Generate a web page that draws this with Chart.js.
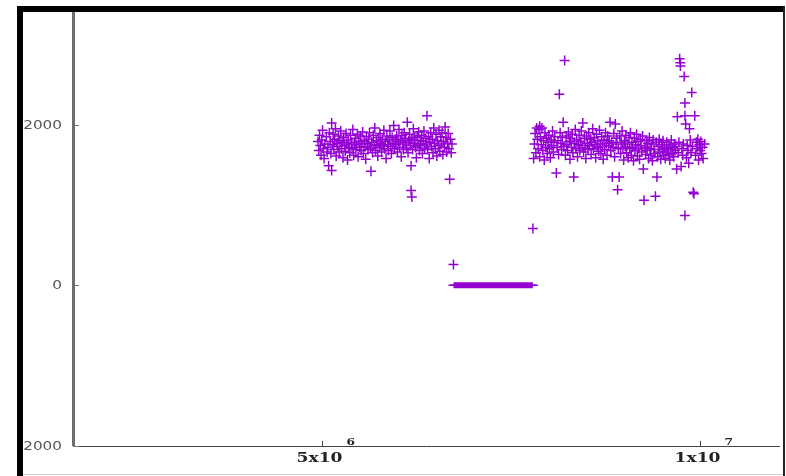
<!DOCTYPE html>
<html>
<head>
<meta charset="utf-8">
<script src="https://cdn.jsdelivr.net/npm/chart.js@4"></script>
<style>
  html, body { margin: 0; padding: 0; background: #fff; overflow: hidden; }
  #wrap { position: relative; width: 786px; height: 476px; }
  #chart { display: block; }
  .edge { position: absolute; pointer-events: none; }
</style>
</head>
<body>
<div id="wrap">
  <canvas id="chart" width="786" height="476"></canvas>
  <div class="edge" style="left:17px;top:6px;width:6px;height:470px;background:#000"></div>
  <div class="edge" style="left:17px;top:6px;width:768px;height:6px;background:#000"></div>
  <div class="edge" style="left:783px;top:6px;width:2px;height:470px;background:#222"></div>
  <div class="edge" style="left:23px;top:474px;width:760px;height:1px;background:#ccc"></div>
</div>
<script>
// first block of samples
const leftPoints = [
  [4.95e6,1790],[4.96e6,1680],[4.97e6,1870],[4.98e6,1740],[4.99e6,1620],
  [5.00e6,1810],[5.01e6,1930],[5.02e6,1700],[5.03e6,1580],[5.04e6,1760],
  [5.06e6,1850],[5.07e6,1660],[5.08e6,1720],[5.09e6,1490],[5.10e6,1900],
  [5.11e6,1790],[5.12e6,1640],[5.13e6,2020],[5.13e6,1430],[5.14e6,1750],
  [5.15e6,1880],[5.16e6,1690],[5.17e6,1820],[5.18e6,1950],[5.19e6,1610],
  [5.20e6,1770],[5.21e6,1730],[5.22e6,1860],[5.23e6,1660],[5.24e6,1800],
  [5.25e6,1920],[5.26e6,1700],[5.27e6,1780],[5.28e6,1590],[5.29e6,1840],
  [5.30e6,1740],[5.31e6,1670],[5.32e6,1890],[5.33e6,1760],[5.34e6,1560],
  [5.35e6,1810],[5.36e6,1720],[5.37e6,1650],[5.38e6,1870],[5.39e6,1780],
  [5.40e6,1700],[5.41e6,1940],[5.42e6,1620],[5.43e6,1760],[5.44e6,1830],
  [5.45e6,1690],[5.46e6,1750],[5.47e6,1880],[5.48e6,1600],[5.49e6,1790],
  [5.50e6,1720],[5.51e6,1860],[5.52e6,1680],[5.53e6,1770],[5.54e6,1910],
  [5.55e6,1640],[5.56e6,1800],[5.57e6,1730],[5.58e6,1570],[5.59e6,1850],
  [5.60e6,1760],[5.61e6,1690],[5.62e6,1820],[5.63e6,1900],[5.64e6,1710],
  [5.65e6,1420],[5.66e6,1780],[5.67e6,1650],[5.68e6,1870],[5.69e6,1740],
  [5.70e6,1960],[5.71e6,1680],[5.72e6,1800],[5.73e6,1750],[5.74e6,1610],
  [5.75e6,1840],[5.76e6,1720],[5.77e6,1890],[5.78e6,1770],[5.79e6,1660],
  [5.80e6,1820],[5.81e6,1740],[5.82e6,1930],[5.83e6,1700],[5.84e6,1790],
  [5.85e6,1580],[5.86e6,1860],[5.87e6,1750],[5.88e6,1680],[5.89e6,1810],
  [5.90e6,1920],[5.91e6,1730],[5.92e6,1640],[5.93e6,1840],[5.94e6,1770],
  [5.95e6,1990],[5.96e6,1700],[5.97e6,1820],[5.98e6,1750],[5.99e6,1860],
  [6.00e6,1660],[6.01e6,1790],[6.02e6,1940],[6.03e6,1720],[6.04e6,1810],
  [6.05e6,1600],[6.06e6,1870],[6.07e6,1760],[6.08e6,1690],[6.09e6,1900],
  [6.10e6,1780],[6.11e6,1830],[6.12e6,1710],[6.13e6,2030],[6.14e6,1650],
  [6.15e6,1800],[6.16e6,1880],[6.17e6,1740],[6.18e6,1490],[6.18e6,1180],
  [6.19e6,1100],[6.19e6,1820],[6.20e6,1690],[6.21e6,1950],[6.22e6,1770],
  [6.23e6,1840],[6.24e6,1720],[6.25e6,1590],[6.26e6,1860],[6.27e6,1760],
  [6.28e6,1910],[6.29e6,1680],[6.30e6,1800],[6.31e6,1740],[6.32e6,1870],
  [6.33e6,1640],[6.34e6,1790],[6.35e6,1920],[6.36e6,1710],[6.37e6,1830],
  [6.38e6,1760],[6.39e6,2110],[6.40e6,1690],[6.41e6,1850],[6.42e6,1580],
  [6.43e6,1780],[6.44e6,1900],[6.45e6,1730],[6.46e6,1820],[6.47e6,1650],
  [6.48e6,1960],[6.49e6,1770],[6.50e6,1700],[6.51e6,1880],[6.52e6,1610],
  [6.53e6,1800],[6.54e6,1740],[6.55e6,1930],[6.56e6,1670],[6.57e6,1850],
  [6.58e6,1760],[6.59e6,1900],[6.60e6,1630],[6.61e6,1790],[6.62e6,1720],
  [6.63e6,1970],[6.64e6,1840],[6.65e6,1660],[6.66e6,1770],[6.67e6,1890],
  [6.68e6,1700],[6.69e6,1320],[6.70e6,1820],[6.71e6,1650],[6.72e6,1760],
  [6.74e6,260]
];

// flat run at zero
const zeroX = [
  6.74e6, 6.77e6, 6.80e6, 6.83e6, 6.86e6, 6.90e6, 6.93e6, 6.96e6, 7.00e6, 7.03e6,
  7.06e6, 7.10e6, 7.13e6, 7.17e6, 7.20e6, 7.24e6, 7.27e6, 7.31e6, 7.35e6, 7.38e6,
  7.42e6, 7.46e6, 7.50e6, 7.53e6, 7.57e6, 7.61e6, 7.65e6, 7.69e6, 7.72e6, 7.76e6, 7.79e6
];

// second block of samples
const rightPoints = [
  [7.79e6,708],
  [7.80e6,1580],[7.81e6,1760],[7.82e6,1890],[7.83e6,1650],[7.84e6,1960],
  [7.85e6,1820],[7.86e6,1700],[7.87e6,1940],[7.88e6,1980],[7.88e6,1600],
  [7.89e6,1850],[7.90e6,1750],[7.91e6,1960],[7.92e6,1680],[7.93e6,1800],
  [7.94e6,1560],[7.95e6,1900],[7.96e6,1720],[7.97e6,1830],[7.98e6,1640],
  [7.99e6,1780],[8.00e6,1870],[8.01e6,1700],[8.02e6,1590],[8.03e6,1810],
  [8.04e6,1740],[8.05e6,1920],[8.06e6,1660],[8.07e6,1780],[8.08e6,1850],
  [8.10e6,1400],[8.11e6,1720],[8.12e6,1800],[8.13e6,1630],[8.14e6,2380],
  [8.15e6,1900],[8.16e6,1770],[8.17e6,1690],[8.18e6,1840],[8.19e6,2030],
  [8.20e6,1730],[8.21e6,2800],[8.22e6,1620],[8.23e6,1860],[8.24e6,1750],
  [8.25e6,1680],[8.26e6,1910],[8.27e6,1790],[8.28e6,1570],[8.29e6,1830],
  [8.30e6,1720],[8.31e6,1880],[8.32e6,1650],[8.33e6,1350],[8.34e6,1770],
  [8.35e6,1940],[8.36e6,1700],[8.37e6,1810],[8.38e6,1600],[8.39e6,1750],
  [8.40e6,1870],[8.41e6,1680],[8.42e6,1790],[8.43e6,1920],[8.44e6,1740],
  [8.45e6,2020],[8.46e6,1660],[8.47e6,1830],[8.48e6,1710],[8.49e6,1580],
  [8.50e6,1860],[8.51e6,1770],[8.52e6,1690],[8.53e6,1900],[8.54e6,1740],
  [8.55e6,1820],[8.56e6,1630],[8.57e6,1780],[8.58e6,1950],[8.59e6,1700],
  [8.60e6,1840],[8.61e6,1750],[8.62e6,1590],[8.63e6,1880],[8.64e6,1720],
  [8.65e6,1800],[8.66e6,1670],[8.67e6,1930],[8.68e6,1760],[8.69e6,1640],
  [8.70e6,1850],[8.71e6,1730],[8.72e6,1570],[8.73e6,1810],[8.74e6,1690],
  [8.75e6,1900],[8.76e6,1770],[8.77e6,1620],[8.78e6,1860],[8.79e6,1740],
  [8.80e6,1800],[8.81e6,2030],[8.82e6,1680],[8.83e6,1780],[8.84e6,1350],
  [8.85e6,1720],[8.86e6,1890],[8.87e6,1600],[8.88e6,2010],[8.89e6,1760],
  [8.90e6,1830],[8.91e6,1190],[8.92e6,1700],[8.93e6,1350],[8.94e6,1860],
  [8.95e6,1640],[8.96e6,1780],[8.97e6,1920],[8.98e6,1710],[8.99e6,1560],
  [9.00e6,1800],[9.01e6,1730],[9.02e6,1870],[9.03e6,1650],[9.04e6,1760],
  [9.05e6,1590],[9.06e6,1840],[9.07e6,1700],[9.08e6,1900],[9.09e6,1620],
  [9.10e6,1780],[9.11e6,1720],[9.12e6,1550],[9.13e6,1830],[9.14e6,1680],
  [9.15e6,1750],[9.16e6,1880],[9.17e6,1610],[9.18e6,1790],[9.19e6,1700],
  [9.20e6,1570],[9.21e6,1820],[9.22e6,1740],[9.23e6,1660],[9.24e6,1860],
  [9.25e6,1450],[9.26e6,1060],[9.27e6,1720],[9.28e6,1630],[9.29e6,1800],
  [9.30e6,1680],[9.31e6,1770],[9.32e6,1580],[9.33e6,1840],[9.34e6,1700],
  [9.35e6,1620],[9.36e6,1760],[9.37e6,1550],[9.38e6,1810],[9.39e6,1690],
  [9.40e6,1640],[9.41e6,1110],[9.42e6,1780],[9.43e6,1350],[9.44e6,1600],
  [9.45e6,1730],[9.46e6,1820],[9.47e6,1660],[9.48e6,1570],[9.49e6,1750],
  [9.50e6,1690],[9.51e6,1800],[9.52e6,1620],[9.53e6,1720],[9.54e6,1580],
  [9.55e6,1660],[9.56e6,1780],[9.57e6,1700],[9.58e6,1630],[9.59e6,1750],
  [9.60e6,1560],[9.61e6,1690],[9.62e6,1810],[9.63e6,1640],[9.64e6,1720],
  [9.65e6,1600],[9.66e6,1760],[9.67e6,1680],[9.68e6,1730],[9.69e6,1450],
  [9.70e6,2100],[9.71e6,1650],[9.72e6,1780],[9.73e6,2820],[9.74e6,2770],
  [9.74e6,2730],[9.75e6,1480],[9.76e6,1700],[9.77e6,1620],[9.78e6,1760],
  [9.79e6,2600],[9.80e6,2270],[9.80e6,870],[9.80e6,2110],[9.81e6,2010],
  [9.82e6,1590],[9.83e6,1740],[9.84e6,1680],[9.85e6,1520],[9.86e6,1950],
  [9.87e6,1810],[9.88e6,1650],[9.89e6,2400],[9.90e6,1730],[9.91e6,1160],
  [9.92e6,1140],[9.93e6,2110],[9.94e6,1620],[9.95e6,1780],[9.96e6,1700],
  [9.97e6,1820],[9.98e6,1560],[9.99e6,1750],[10.00e6,1680],[10.01e6,1790],
  [10.02e6,1640],[10.03e6,1720],[10.04e6,1580],[10.06e6,1760]
];

const yTicks = [-2000, 0, 2000];
const yTickLabels = ['2000', '0', '2000'];
const xTicks = [5e6, 1e7];
const xTickLabels = ['5x10', '1x10'];
const xTickExps = ['6', '7'];

const purple = '#9400D3';

const toXY = (pts) => pts.map(p => ({ x: p[0], y: p[1] }));

// gnuplot-like axis decorations: y axis line, inward ticks, stretched labels
const gnuAxes = {
  id: 'gnuAxes',
  afterDraw(chart) {
    const ctx = chart.ctx;
    const xs = chart.scales.x;
    const ys = chart.scales.y;
    const area = chart.chartArea;
    const left = Math.round(area.left);
    const bottom = Math.round(area.bottom);
    const stretch = 1.22;

    ctx.save();
    // y axis rule, from the top border down to the x axis
    ctx.fillStyle = '#6e6e6e';
    ctx.fillRect(left - 1, 12, 3, bottom - 12);

    ctx.strokeStyle = '#777';
    ctx.lineWidth = 1;
    ctx.fillStyle = '#555';
    ctx.font = '12.5px "DejaVu Sans"';
    ctx.textBaseline = 'middle';
    ctx.textAlign = 'right';
    yTicks.forEach((v, i) => {
      const py = Math.round(ys.getPixelForValue(v)) + 0.5;
      ctx.beginPath();
      ctx.moveTo(left, py);
      ctx.lineTo(left + 6, py);
      ctx.stroke();
      ctx.save();
      ctx.translate(62, py);
      ctx.scale(stretch, 1);
      ctx.fillText(yTickLabels[i], 0, 0);
      ctx.restore();
    });

    ctx.strokeStyle = '#444';
    ctx.fillStyle = '#222';
    xTicks.forEach((v, i) => {
      const px = Math.round(xs.getPixelForValue(v)) + 0.5;
      ctx.beginPath();
      ctx.moveTo(px, bottom);
      ctx.lineTo(px, bottom - 5);
      ctx.stroke();

      ctx.save();
      ctx.font = 'bold 12.5px "DejaVu Serif"';
      ctx.textAlign = 'center';
      ctx.textBaseline = 'alphabetic';
      ctx.translate(px - 3, bottom + 16);
      ctx.scale(stretch + 0.15, 1);
      ctx.fillText(xTickLabels[i], 0, 0);
      ctx.restore();

      ctx.save();
      ctx.font = 'bold 10px "DejaVu Serif"';
      ctx.textAlign = 'left';
      ctx.textBaseline = 'alphabetic';
      ctx.translate(px + 24, bottom - 1);
      ctx.scale(stretch, 1);
      ctx.fillText(xTickExps[i], 0, 0);
      ctx.restore();
    });
    ctx.restore();
  }
};

const ctx = document.getElementById('chart').getContext('2d');

new Chart(ctx, {
  type: 'scatter',
  data: {
    datasets: [
      {
        data: toXY(leftPoints),
        borderColor: purple,
        backgroundColor: purple,
        pointStyle: 'cross',
        pointRadius: 5,
        borderWidth: 1.5
      },
      {
        data: zeroX.map(x => ({ x: x, y: 0 })),
        showLine: true,
        borderColor: purple,
        backgroundColor: purple,
        borderWidth: 6,
        pointStyle: 'line',
        pointRadius: 5,
        pointBorderWidth: 1.5
      },
      {
        data: toXY(rightPoints),
        borderColor: purple,
        backgroundColor: purple,
        pointStyle: 'cross',
        pointRadius: 5,
        borderWidth: 1.5
      }
    ]
  },
  options: {
    responsive: false,
    animation: false,
    layout: { padding: { left: 0, top: 12, right: 3, bottom: 0 } },
    plugins: {
      legend: { display: false },
      tooltip: { enabled: false }
    },
    scales: {
      x: {
        type: 'linear',
        min: 1.711e6,
        max: 1.105e7,
        afterBuildTicks: (s) => { s.ticks = xTicks.map(v => ({ value: v })); },
        afterFit: (s) => { s.height = 30; },
        grid: { display: false },
        ticks: { display: false },
        border: { display: true, color: '#444', width: 1 }
      },
      y: {
        type: 'linear',
        min: -2000,
        max: 3403,
        afterBuildTicks: (s) => { s.ticks = yTicks.map(v => ({ value: v })); },
        afterFit: (s) => { s.width = 73; },
        grid: { display: false },
        ticks: { display: false },
        border: { display: false }
      }
    }
  },
  plugins: [gnuAxes]
});
</script>
</body>
</html>
